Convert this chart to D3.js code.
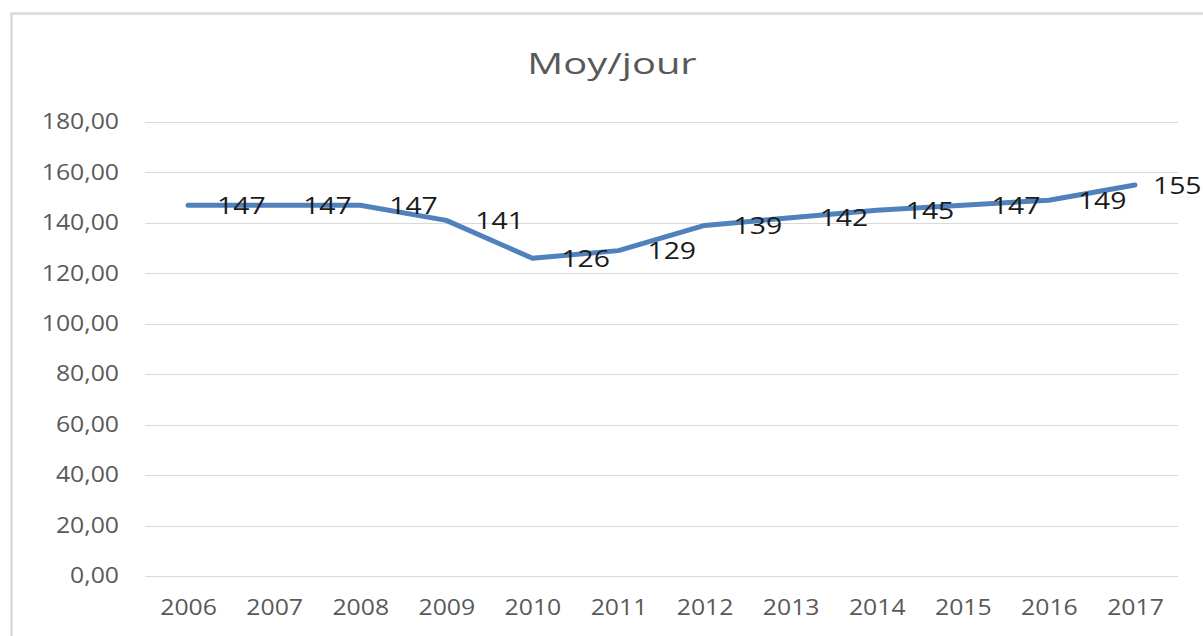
<!DOCTYPE html>
<html>
<head>
<meta charset="utf-8">
<script src="https://cdn.jsdelivr.net/npm/d3@7"></script>
<style>
  html, body { margin: 0; padding: 0; background: #fff; }
  svg { display: block; }
  text { font-family: "Open Sans", Calibri, sans-serif; }
</style>
</head>
<body>
<div id="chart"></div>
<script>
// Data
const years = ['2006', '2007', '2008', '2009', '2010', '2011', '2012', '2013', '2014', '2015', '2016', '2017'];
const moyJour = [147, 147, 147, 141, 126, 129, 139, 142, 145, 147, 149, 155];
const yTicks = [0, 20, 40, 60, 80, 100, 120, 140, 160, 180];
const title = 'Moy/jour';

const width = 1203;
const height = 636;
const margin = { top: 122, right: 25, bottom: 60, left: 145 };
const plotW = width - margin.left - margin.right;
const plotH = height - margin.top - margin.bottom;

// text in the reference is stretched horizontally
function stretchText(sel, factor) {
  sel.each(function() {
    const len = this.getComputedTextLength();
    d3.select(this)
      .attr('textLength', len * factor)
      .attr('lengthAdjust', 'spacingAndGlyphs');
  });
}

const svg = d3.select('#chart')
  .append('svg')
  .attr('width', width)
  .attr('height', height);

// Chart area border
svg.append('rect')
  .attr('x', 11.5)
  .attr('y', 13.5)
  .attr('width', width + 20)
  .attr('height', height + 20)
  .attr('fill', '#fff')
  .attr('stroke', '#d9d9d9')
  .attr('stroke-width', 2.5);

const g = svg.append('g')
  .attr('transform', `translate(${margin.left},${margin.top})`);

// Scales
const x = d3.scalePoint()
  .domain(years)
  .range([0, plotW])
  .padding(0.5);

const y = d3.scaleLinear()
  .domain([0, 180])
  .range([plotH, 0]);

// Gridlines
g.append('g')
  .selectAll('line')
  .data(yTicks)
  .join('line')
  .attr('x1', 0)
  .attr('x2', plotW)
  .attr('y1', d => Math.round(y(d)) + 0.5)
  .attr('y2', d => Math.round(y(d)) + 0.5)
  .attr('stroke', '#d9d9d9')
  .attr('stroke-width', 1);

// Y axis
const yAxis = d3.axisLeft(y)
  .tickValues(yTicks)
  .tickSize(0)
  .tickPadding(26)
  .tickFormat(d => d3.format('.2f')(d).replace('.', ','));

g.append('g')
  .call(yAxis)
  .call(sel => sel.select('.domain').remove())
  .selectAll('text')
  .attr('fill', '#595959')
  .style('font-size', '21px')
  .call(stretchText, 1.18);

// X axis
const xAxis = d3.axisBottom(x)
  .tickSize(0)
  .tickPadding(24);

g.append('g')
  .attr('transform', `translate(0,${plotH})`)
  .call(xAxis)
  .call(sel => sel.select('.domain').remove())
  .selectAll('text')
  .attr('fill', '#595959')
  .style('font-size', '21px')
  .call(stretchText, 1.18);

// Line
const line = d3.line()
  .x((d, i) => x(years[i]))
  .y(d => y(d));

g.append('path')
  .datum(moyJour)
  .attr('fill', 'none')
  .attr('stroke', '#4f81bd')
  .attr('stroke-width', 5)
  .attr('stroke-linejoin', 'round')
  .attr('stroke-linecap', 'round')
  .attr('d', line);

// Data labels (right of the points)
g.append('g')
  .selectAll('text')
  .data(moyJour)
  .join('text')
  .attr('class', 'data-label')
  .attr('x', (d, i) => x(years[i]) + (i === years.length - 1 ? 18 : 29))
  .attr('y', d => y(d))
  .attr('dy', '0.36em')
  .attr('fill', '#1a1a1a')
  .style('font-size', '24px')
  .text(d => d3.format('d')(d))
  .call(stretchText, 1.18);

// Title
svg.append('text')
  .attr('x', 612)
  .attr('y', 74)
  .attr('text-anchor', 'middle')
  .attr('fill', '#595959')
  .style('font-size', '30px')
  .text(title)
  .call(stretchText, 1.33);
</script>
</body>
</html>
